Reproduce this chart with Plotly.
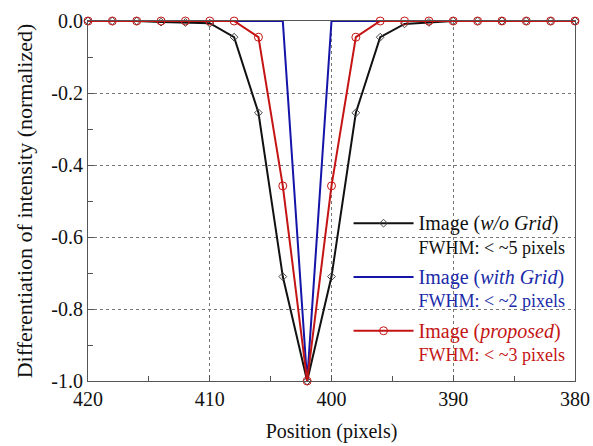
import plotly.graph_objects as go

positions = [420, 418, 416, 414, 412, 410, 408, 406, 404, 402, 400,
             398, 396, 394, 392, 390, 388, 386, 384, 382, 380]
wo_grid = [0, 0, 0, -0.003, -0.004, -0.006, -0.045, -0.255, -0.71, -1.0, -0.71,
           -0.255, -0.045, -0.008, -0.004, 0, 0, 0, 0, 0, 0]
with_grid = [0, 0, 0, 0, 0, 0, 0, 0, 0, -1.0, 0,
             0, 0, 0, 0, 0, 0, 0, 0, 0, 0]
proposed = [0, 0, 0, 0, 0, 0, 0, -0.045, -0.458, -1.0, -0.458,
            -0.045, 0, 0, 0, 0, 0, 0, 0, 0, 0]

y_ticks = [0, -0.2, -0.4, -0.6, -0.8, -1.0]
y_tick_text = ["0.0", "-0.2", "-0.4", "-0.6", "-0.8", "-1.0"]
x_ticks = [420, 410, 400, 390, 380]

BLACK = "#111111"
BLUE = "#1414a8"
RED = "#c41414"
FONT = "Liberation Serif"

fig = go.Figure()
fig.add_trace(go.Scatter(
    x=positions, y=wo_grid, mode="lines+markers",
    line=dict(color=BLACK, width=2),
    marker=dict(symbol="diamond-open", size=6, color="#444444", line=dict(width=1)),
    name="<span style='font-size:20px'>Image (<i>w/o Grid</i>)</span><br>FWHM: < ~5 pixels",
    legendgroup="a", cliponaxis=False))
fig.add_trace(go.Scatter(
    x=positions, y=with_grid, mode="lines",
    line=dict(color=BLUE, width=2),
    name="<span style='color:#1a2aa8'><span style='font-size:20px'>Image (<i>with Grid</i>)</span><br>FWHM: < ~2 pixels</span>",
    legendgroup="b", cliponaxis=False))
fig.add_trace(go.Scatter(
    x=positions, y=proposed, mode="lines+markers",
    line=dict(color=RED, width=2),
    marker=dict(symbol="circle-open", size=8, color=RED, line=dict(width=1)),
    name="<span style='color:#c41414'><span style='font-size:20px'>Image (<i>proposed</i>)</span><br>FWHM: < ~3 pixels</span>",
    legendgroup="c", cliponaxis=False))

axis_common = dict(
    showline=True, linecolor="#555555", linewidth=1, mirror=True,
    ticks="inside", ticklen=6, tickcolor="#555555",
    showgrid=True, gridcolor="#777777", griddash="dot", gridwidth=1,
    zeroline=False, automargin=False,
    tickfont=dict(family=FONT, size=20, color="#111111"),
)

fig.update_layout(
    width=593, height=446,
    margin=dict(l=88, r=18, t=21, b=65),
    paper_bgcolor="white", plot_bgcolor="white",
    showlegend=True,
    legend=dict(x=0.535, y=0.489, xanchor="left", yanchor="top",
                bgcolor="rgba(0,0,0,0)", borderwidth=0,
                font=dict(family=FONT, size=18, color="#111111"),
                valign="top", tracegroupgap=4, itemwidth=60),
    xaxis=dict(axis_common, range=[420, 380], tickvals=x_ticks,
               minor=dict(dtick=5, ticks="inside", ticklen=5, tickcolor="#555555", showgrid=False),
               title=dict(text="Position (pixels)", font=dict(family=FONT, size=20, color="#111111"),
                          standoff=14)),
    yaxis=dict(axis_common, range=[-1.0, 0.0], tickvals=y_ticks, ticktext=y_tick_text,
               minor=dict(dtick=0.1, ticks="inside", ticklen=5, tickcolor="#555555", showgrid=False),
               title=dict(text="Differentiation of intensity (normalized)",
                          font=dict(family=FONT, size=22, color="#111111"), standoff=12)),
)

fig.write_html("out.html", config={"displayModeBar": False},
               post_script="document.body.style.margin='0px';")
